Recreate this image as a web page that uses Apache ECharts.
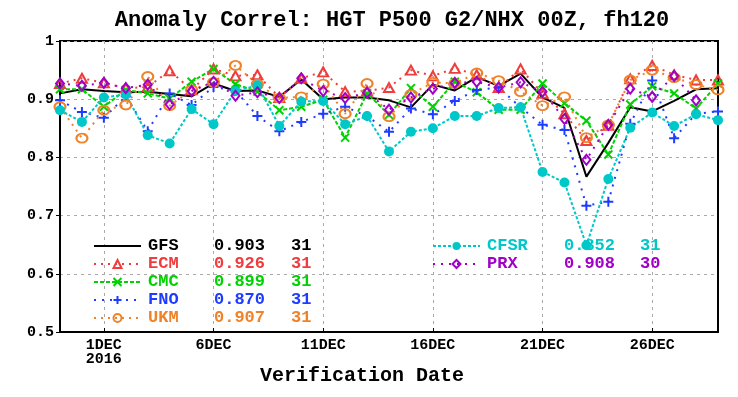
<!DOCTYPE html>
<html><head><meta charset="utf-8">
<script src="https://cdn.jsdelivr.net/npm/echarts@6/dist/echarts.min.js"></script>
<style>html,body{margin:0;padding:0;background:#fff}#c{width:738px;height:397px}</style>
</head><body><div id="c"></div>
<script>
// x position = day index, 0 = 29 Nov 2016 ... 30 = 29 Dec 2016
const tickDays = [2, 7, 12, 17, 22, 27];
const tickLabels = ['1DEC\n2016', '6DEC', '11DEC', '16DEC', '21DEC', '26DEC'];
const yTicks = [0.5, 0.6, 0.7, 0.8, 0.9, 1];

const seriesNames = ['GFS', 'ECM', 'CMC', 'FNO', 'UKM', 'CFSR', 'PRX'];
const seriesMeans = ['0.903', '0.926', '0.899', '0.870', '0.907', '0.852', '0.908'];
const seriesCounts = ['31', '31', '31', '31', '31', '31', '30'];

const gfs = [0.910, 0.917, 0.914, 0.912, 0.913, 0.909, 0.905, 0.927, 0.914, 0.915, 0.904, 0.934, 0.900, 0.903, 0.903, 0.898, 0.886, 0.925, 0.915, 0.938, 0.923, 0.944, 0.903, 0.885, 0.767, 0.825, 0.886, 0.879, 0.897, 0.917, 0.919];
const ecm = [0.927, 0.936, 0.928, 0.919, 0.921, 0.949, 0.916, 0.952, 0.940, 0.942, 0.903, 0.936, 0.947, 0.913, 0.914, 0.920, 0.950, 0.940, 0.953, 0.942, 0.920, 0.952, 0.910, 0.875, 0.829, 0.855, 0.935, 0.958, 0.942, 0.933, 0.933];
const cmc = [0.917, 0.917, 0.887, 0.916, 0.910, 0.901, 0.930, 0.952, 0.926, 0.913, 0.881, 0.887, 0.899, 0.834, 0.910, 0.873, 0.919, 0.887, 0.930, 0.912, 0.882, 0.882, 0.927, 0.893, 0.863, 0.805, 0.891, 0.922, 0.910, 0.884, 0.927];
const fno = [0.898, 0.878, 0.868, 0.905, 0.845, 0.910, 0.890, 0.921, 0.915, 0.871, 0.845, 0.861, 0.875, 0.887, 0.871, 0.844, 0.884, 0.874, 0.897, 0.916, 0.920, 0.886, 0.856, 0.847, 0.717, 0.724, 0.858, 0.932, 0.833, 0.875, 0.879];
const ukm = [0.887, 0.833, 0.881, 0.890, 0.939, 0.889, 0.916, 0.929, 0.958, 0.926, 0.902, 0.904, 0.926, 0.875, 0.927, 0.870, 0.908, 0.929, 0.927, 0.945, 0.932, 0.913, 0.889, 0.904, 0.834, 0.856, 0.933, 0.950, 0.937, 0.925, 0.916];
const cfsr = [0.881, 0.861, 0.903, 0.908, 0.838, 0.824, 0.883, 0.857, 0.914, 0.924, 0.854, 0.896, 0.897, 0.857, 0.871, 0.810, 0.844, 0.850, 0.871, 0.871, 0.885, 0.886, 0.775, 0.757, 0.649, 0.763, 0.851, 0.877, 0.854, 0.874, 0.864];
const prx = [0.927, 0.923, 0.928, 0.919, 0.925, 0.891, 0.914, 0.930, 0.906, 0.912, 0.902, 0.936, 0.914, 0.902, 0.911, 0.882, 0.903, 0.918, 0.928, 0.930, 0.920, 0.929, 0.913, 0.866, 0.796, 0.856, 0.918, 0.904, 0.940, 0.898, null];

const FONT = '"Liberation Mono", "DejaVu Sans Mono", monospace';
const colors = ['#000000', '#f03c3c', '#00d200', '#1e3cff', '#f08228', '#00c8c8', '#a000c8'];
const values = [gfs, ecm, cmc, fno, ukm, cfsr, prx];
const symbols = ['circle', 'triangle', 'path://M0,0L8,8M8,0L0,8', 'path://M4,0L4,8M0,4L8,4', 'circle', 'circle', 'diamond'];
const symbolSizes = [1, [10, 9], 8, 10, [11, 9], 10, [8, 10]];
const lineTypes = ['solid', [2, 5], [4, 2], [2, 6], [2, 5], [3, 2], [2, 6]];
const markerStyle = ['hidden', 'hollow', 'hollow', 'hollow', 'hollow', 'filled', 'hollow'];

const chart = echarts.init(document.getElementById('c'), null, {renderer: 'canvas'});

const rich = {};
seriesNames.forEach((n, k) => {
  const lc = n.toLowerCase();
  rich['n' + lc] = {color: colors[k], fontFamily: FONT, fontWeight: 'bold', fontSize: 17, width: k >= 5 ? 77 : 66, padding: [0, 0, 0, 2]};
  rich['v' + lc] = {color: colors[k], fontFamily: FONT, fontWeight: 'bold', fontSize: 17, width: k >= 5 ? 76 : 77};
  rich['c' + lc] = {color: colors[k], fontFamily: FONT, fontWeight: 'bold', fontSize: 17};
});
const legendFormatter = name => {
  const k = seriesNames.indexOf(name);
  const lc = name.toLowerCase();
  return `{n${lc}|${name}}{v${lc}|${seriesMeans[k]}}{c${lc}|${seriesCounts[k]}}`;
};

const styleFor = k => {
  if (markerStyle[k] === 'filled') return {color: colors[k], borderColor: colors[k], borderWidth: 0};
  if (markerStyle[k] === 'hidden') return {color: 'rgba(0,0,0,0)', borderColor: 'rgba(0,0,0,0)', borderWidth: 0};
  return {color: 'rgba(255,255,255,0)', borderColor: colors[k], borderWidth: 2};
};

const series = seriesNames.map((name, k) => ({
  name,
  type: 'line',
  data: values[k].map((v, i) => [i, v]),
  symbol: symbols[k],
  symbolSize: symbolSizes[k],
  showSymbol: markerStyle[k] !== 'hidden',
  connectNulls: false,
  lineStyle: {color: colors[k], width: 2, type: lineTypes[k]},
  itemStyle: styleFor(k),
  emphasis: {disabled: true},
  animation: false
}));

chart.setOption({
  animation: false,
  backgroundColor: '#fff',
  title: [
    {text: 'Anomaly Correl: HGT P500 G2/NHX 00Z, fh120', left: 387, top: 4, textAlign: 'center',
     textStyle: {fontFamily: FONT, fontWeight: 'bold', fontSize: 22, color: '#000'}},
    {text: 'Verification Date', left: 357, top: 361, textAlign: 'center',
     textStyle: {fontFamily: FONT, fontWeight: 'bold', fontSize: 20, color: '#000'}}
  ],
  grid: {left: 60, right: 20, top: 41, bottom: 65, show: true, borderColor: '#000', borderWidth: 2, containLabel: false},
  legend: [
    {data: seriesNames.slice(0, 5), orient: 'vertical', left: 88, top: 232, itemWidth: 47, itemHeight: 10, itemGap: 0,
     formatter: legendFormatter, textStyle: {rich, lineHeight: 18}, selectedMode: false},
    {data: seriesNames.slice(5), orient: 'vertical', left: 427, top: 232, itemWidth: 47, itemHeight: 10, itemGap: 0,
     formatter: legendFormatter, textStyle: {rich, lineHeight: 18}, selectedMode: false}
  ],
  xAxis: {
    type: 'value', min: 0, max: 30,
    axisLine: {show: true, lineStyle: {color: '#000', width: 2}},
    axisTick: {show: true, customValues: tickDays, inside: true, length: 4, lineStyle: {color: '#000'}},
    axisLabel: {customValues: tickDays, formatter: v => tickLabels[tickDays.indexOf(v)] || '',
      fontFamily: FONT, fontWeight: 'bold', fontSize: 15, color: '#000', lineHeight: 14, margin: 6},
    splitLine: {show: true, lineStyle: {color: '#aaaaaa', type: [3, 4], width: 1}}
  },
  yAxis: {
    type: 'value', min: 0.5, max: 1, interval: 0.1,
    axisLine: {show: true, lineStyle: {color: '#000', width: 2}},
    axisTick: {show: true, length: 4, lineStyle: {color: '#000'}},
    axisLabel: {formatter: v => (Math.abs(v - 1) < 1e-9 ? '1' : v.toFixed(1)),
      fontFamily: FONT, fontWeight: 'bold', fontSize: 15, color: '#000', margin: 6},
    splitLine: {show: true, lineStyle: {color: '#aaaaaa', type: [3, 4], width: 1}}
  },
  series
});
</script></body></html>
